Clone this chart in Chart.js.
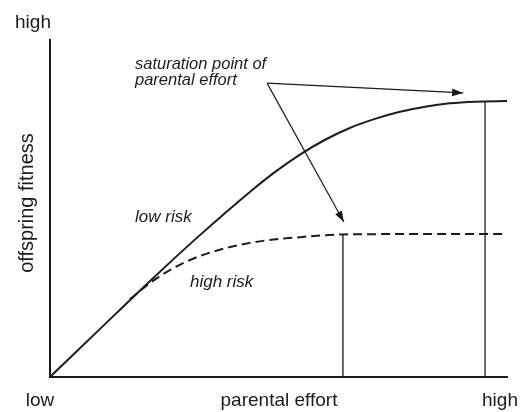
<!DOCTYPE html>
<html>
<head>
<meta charset="utf-8">
<script src="https://cdn.jsdelivr.net/npm/chart.js@4"></script>
<style>
  html, body { margin: 0; padding: 0; background: #fff; }
  #chart { display: block; }
</style>
</head>
<body>
<canvas id="chart" width="528" height="412"></canvas>
<script>
// Both axes run 0 (low) .. 100 (high)
const lowRiskEffort = [0, 10.9, 21.9, 32.8, 43.8, 49.2, 54.7, 60.2, 65.6, 71.1, 76.6, 82.1, 87.5, 93.0, 100];
const lowRiskFitness = [0, 14.2, 28.5, 42.1, 55.0, 60.8, 66.0, 70.4, 73.9, 76.6, 78.7, 80.2, 81.2, 81.7, 81.9];
const highRiskEffort = [17.5, 21.9, 26.3, 32.8, 43.8, 54.7, 64.1, 76.6, 100];
const highRiskFitness = [23.1, 27.9, 31.8, 35.9, 39.8, 41.5, 42.3, 42.4, 42.4];

// Saturation points (high risk, low risk)
const saturationEffort = [64.1, 95.2];
const saturationFitness = [42.3, 81.8];

// Annotation arrows: one start, two targets
const arrowStart = [47.5, 87.2];
const arrowEnds = [[90.4, 84.3], [64.3, 46.0]];

const xTickLabels = ['low', 'high'];
const yTickLabels = ['high'];

const ink = '#1c1c1c';
const font = '"Liberation Sans", Arial, sans-serif';

function toPoints(xs, ys) {
  return xs.map((x, i) => ({ x: x, y: ys[i] }));
}

const datasets = [
  {
    label: 'low risk',
    data: toPoints(lowRiskEffort, lowRiskFitness),
    borderColor: ink,
    borderWidth: 2,
    cubicInterpolationMode: 'monotone',
    showLine: true,
    pointRadius: 0
  },
  {
    label: 'high risk',
    data: toPoints(highRiskEffort, highRiskFitness),
    borderColor: ink,
    borderWidth: 2,
    borderDash: [9, 5],
    cubicInterpolationMode: 'monotone',
    showLine: true,
    pointRadius: 0
  }
];

// vertical drop lines at each saturation point
saturationEffort.forEach((x, i) => {
  datasets.push({
    label: 'saturation ' + i,
    data: [{ x: x, y: 0 }, { x: x, y: saturationFitness[i] }],
    borderColor: ink,
    borderWidth: 1.3,
    showLine: true,
    pointRadius: 0
  });
});

// arrows
arrowEnds.forEach((end, i) => {
  datasets.push({
    label: 'arrow ' + i,
    data: [{ x: arrowStart[0], y: arrowStart[1] }, { x: end[0], y: end[1] }],
    borderColor: ink,
    borderWidth: 1.2,
    showLine: true,
    pointRadius: 0,
    arrow: true
  });
});

// Draw arrowheads at the end of arrow datasets
const arrowHeads = {
  id: 'arrowHeads',
  afterDatasetsDraw(chart) {
    const ctx = chart.ctx;
    chart.data.datasets.forEach((ds, i) => {
      if (!ds.arrow) return;
      const pts = chart.getDatasetMeta(i).data;
      const a = pts[pts.length - 2];
      const b = pts[pts.length - 1];
      const ang = Math.atan2(b.y - a.y, b.x - a.x);
      const len = 11;
      const half = 3.8;
      ctx.save();
      ctx.fillStyle = ink;
      ctx.translate(b.x, b.y);
      ctx.rotate(ang);
      ctx.beginPath();
      ctx.moveTo(0, 0);
      ctx.lineTo(-len, -half);
      ctx.lineTo(-len, half);
      ctx.closePath();
      ctx.fill();
      ctx.restore();
    });
  }
};

// Axis labels and annotation text
const chartText = {
  id: 'chartText',
  afterDraw(chart) {
    const ctx = chart.ctx;
    const area = chart.chartArea;
    ctx.save();
    ctx.fillStyle = ink;
    ctx.textBaseline = 'middle';

    ctx.font = '19px ' + font;
    ctx.textAlign = 'center';
    ctx.fillText(yTickLabels[0], area.left - 17, area.top - 17);
    ctx.fillText(xTickLabels[0], area.left - 10, area.bottom + 24);
    ctx.fillText(xTickLabels[1], area.right - 7, area.bottom + 24);
    ctx.fillText('parental effort', 279, area.bottom + 24);

    ctx.save();
    ctx.translate(27, 203);
    ctx.rotate(-Math.PI / 2);
    ctx.font = '20px ' + font;
    ctx.fillText('offspring fitness', 0, 0);
    ctx.restore();

    ctx.textAlign = 'left';
    ctx.font = 'italic 16.5px ' + font;
    ctx.fillText('saturation point of', 135, 64);
    ctx.fillText('parental effort', 135, 80);
    ctx.font = 'italic 17px ' + font;
    ctx.fillText('low risk', 135, 217);
    ctx.fillText('high risk', 190, 282);
    ctx.restore();
  }
};

const axisStyle = {
  type: 'linear',
  min: 0,
  max: 100,
  grid: { display: false, drawTicks: false },
  ticks: { display: false },
  border: { display: true, color: ink, width: 2 }
};

new Chart(document.getElementById('chart'), {
  type: 'scatter',
  data: { datasets: datasets },
  options: {
    responsive: false,
    animation: false,
    layout: { padding: { left: 50, top: 40, right: 21, bottom: 35 } },
    scales: {
      x: Object.assign({}, axisStyle),
      y: Object.assign({}, axisStyle)
    },
    plugins: {
      legend: { display: false },
      tooltip: { enabled: false }
    }
  },
  plugins: [arrowHeads, chartText]
});
</script>
</body>
</html>
